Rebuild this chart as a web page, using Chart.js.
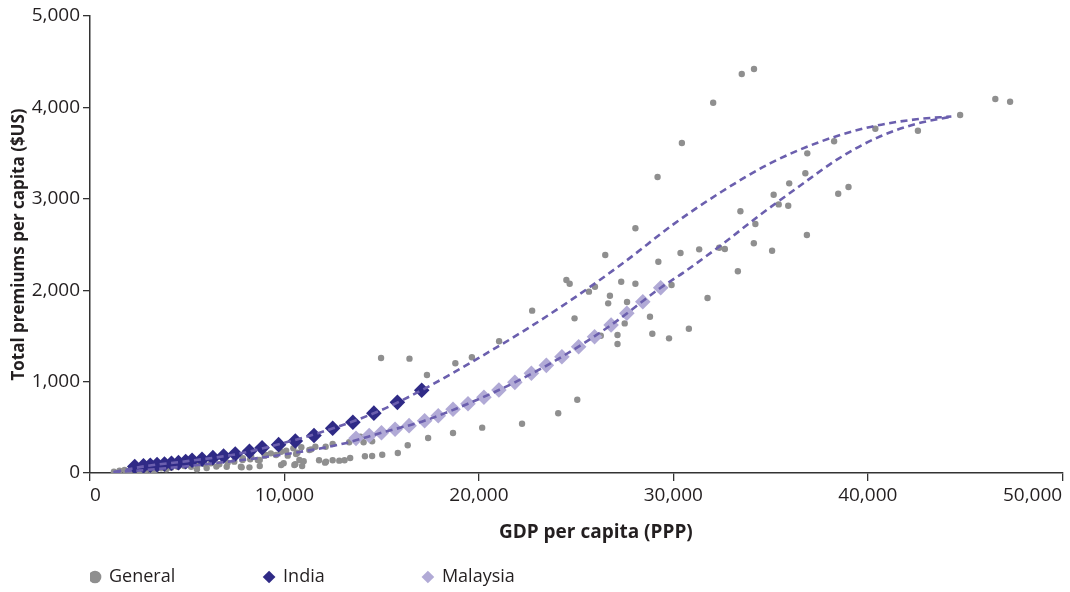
<!DOCTYPE html>
<html>
<head>
<meta charset="utf-8">
<script src="https://cdn.jsdelivr.net/npm/chart.js@4.4.1/dist/chart.umd.min.js"></script>
<style>
  html, body { margin: 0; padding: 0; background: #ffffff; }
  #wrap { width: 1070px; height: 592px; position: relative; }
</style>
</head>
<body>
<div id="wrap"><canvas id="c" width="1070" height="592"></canvas></div>
<script>
// ---- Data ----
const xTicks = [0, 10000, 20000, 30000, 40000, 50000];
const yTicks = [0, 1000, 2000, 3000, 4000, 5000];

const seriesNames = ["General", "India", "Malaysia"];

// General (grey dots): GDP per capita (PPP), total premiums per capita ($US)
const generalX = [1230,1520,1780,1900,2030,2290,2550,2600,2890,3150,3300,3400,3660,3920,4170,4510,4850,5200,5500,5540,5880,6000,6220,6500,6650,7030,7080,7420,7760,7800,7850,7860,8200,8240,8290,8630,8730,8730,8990,9060,9300,9570,9830,9830,9960,10090,10170,10460,10510,10560,10600,10670,10770,10870,10910,10990,11280,11380,11590,11780,12090,12120,12140,12480,12480,12820,13090,13330,13380,13910,14070,14140,14510,14510,15030,15830,16340,17390,18670,20170,22220,24080,25060,14970,16430,17330,18790,19640,21040,22740,24920,24500,24670,25660,25970,26500,26650,26740,27320,27620,28050,28050,26270,27130,27130,27500,28800,28920,29780,29190,29230,29910,30370,30440,30800,31330,31760,32050,32360,32650,33320,33450,33520,34140,34150,34220,35080,35160,35420,35910,35960,36790,36890,36870,38270,38480,39010,40390,42580,44750,46560,47320];
const generalY = [14,25,33,5,22,33,25,10,33,25,15,40,51,40,58,69,77,69,40,88,98,55,106,70,95,69,113,124,69,62,142,161,62,150,178,142,142,77,190,197,215,197,233,88,106,244,190,270,88,95,208,222,142,281,77,128,252,259,288,139,113,288,124,317,139,135,139,336,164,397,336,183,186,347,200,219,303,383,438,496,539,653,802,1258,1251,1072,1200,1266,1441,1776,1692,2111,2071,1984,2038,2385,1856,1940,2093,1871,2677,2071,1502,1510,1411,1637,1710,1524,1473,3238,2312,2057,2407,3610,1579,2447,1915,4051,2465,2450,2207,2863,4365,2513,4420,2724,2432,3045,2939,2924,3169,3279,3497,2604,3629,3056,3129,3767,3745,3917,4092,4062];

// India (dark diamonds)
const indiaX = [2300,2750,3100,3450,3830,4190,4550,4920,5250,5760,6320,6870,7470,8200,8850,9700,10560,11520,12480,13520,14600,15810,17060];
const indiaY = [70,78,85,92,98,106,113,125,140,150,168,186,208,237,277,310,350,410,489,555,655,773,906];

// Malaysia (light diamonds)
const malaysiaX = [13680,14360,14990,15690,16410,17210,17910,18670,19440,20260,21030,21850,22700,23470,24270,25130,25950,26800,27610,28430,29350];
const malaysiaY = [379,410,441,478,518,572,627,697,758,828,908,992,1091,1178,1272,1382,1491,1619,1747,1874,2027];

// Dashed fitted curves (read along the dashes)
const upperCurveX = [1250,3000,5000,7500,10000,12500,15000,17060,20000,22500,25000,27500,30000,32500,35000,37500,40000,42500,44300];
const upperCurveY = [12,80,130,205,330,489,690,906,1260,1580,1930,2310,2720,3080,3390,3620,3780,3870,3900];
const lowerCurveX = [1200,3000,6300,9700,13000,15000,17200,19440,21850,24270,26800,29350,30500,32500,34500,36500,38500,40500,42500,44300];
const lowerCurveY = [10,35,105,195,320,441,572,758,992,1272,1619,2027,2190,2500,2830,3140,3440,3670,3820,3900];

// ---- Build chart ----
const toPts = (xs, ys) => xs.map((x, i) => ({x: x, y: ys[i]}));

const FONT = "'Open Sans', Lato, sans-serif";
const TEXT = '#231f20';
const AXIS = '#333333';
const LEGEND_FONT_SIZE = 18;

function padText(text, targetWidth) {
  const cv = document.createElement('canvas');
  const cx = cv.getContext('2d');
  cx.font = 'normal ' + LEGEND_FONT_SIZE + 'px ' + FONT;
  let t = text;
  let guard = 0;
  while (cx.measureText(t).width < targetWidth && guard < 200) { t += ' '; guard++; }
  return t;
}
// text widths (incl. trailing gap) so the legend markers land where the reference puts them
const legendWidths = {"General": 153, "India": 137, "Malaysia": 0};
const legendOrder = {"General": 0, "India": 1, "Malaysia": 2};

const data = {
  datasets: [
    { label: 'fitUpper', data: toPts(upperCurveX, upperCurveY), showLine: true, pointRadius: 0,
      borderColor: '#6b5fae', borderWidth: 2.6, borderDash: [7, 4.5], cubicInterpolationMode: 'monotone', order: 0, fill: false },
    { label: 'fitLower', data: toPts(lowerCurveX, lowerCurveY), showLine: true, pointRadius: 0,
      borderColor: '#6b5fae', borderWidth: 2.6, borderDash: [7, 4.5], cubicInterpolationMode: 'monotone', order: 0, fill: false },
    { label: seriesNames[1], data: toPts(indiaX, indiaY), pointStyle: 'rectRot', pointRadius: 7.8,
      backgroundColor: '#2f2a86', borderColor: '#2f2a86', borderWidth: 0, order: 1 },
    { label: seriesNames[2], data: toPts(malaysiaX, malaysiaY), pointStyle: 'rectRot', pointRadius: 7.8,
      backgroundColor: '#b1aad6', borderColor: '#b1aad6', borderWidth: 0, order: 2 },
    { label: seriesNames[0], data: toPts(generalX, generalY), pointStyle: 'circle', pointRadius: 3.2,
      backgroundColor: '#8f8f8f', borderColor: '#8f8f8f', borderWidth: 0, order: 3 }
  ]
};

new Chart(document.getElementById('c'), {
  type: 'scatter',
  data: data,
  options: {
    responsive: false,
    animation: false,
    locale: 'en-US',
    layout: { padding: { top: 16, right: 5, bottom: -4, left: 0 } },
    plugins: {
      tooltip: { enabled: false },
      legend: {
        display: true,
        position: 'bottom',
        align: 'start',
        fullSize: false,
        labels: {
          usePointStyle: true,
          boxWidth: 10,
          boxHeight: 9,
          padding: 0,
          color: TEXT,
          font: { family: FONT, size: LEGEND_FONT_SIZE },
          filter: (item) => item.text.trim() in legendOrder,
          sort: (a, b) => legendOrder[a.text.trim()] - legendOrder[b.text.trim()],
          generateLabels: (ch) => {
            const items = Chart.defaults.plugins.legend.labels.generateLabels(ch);
            items.forEach(it => {
              it.lineWidth = 0;
              if (legendWidths[it.text]) it.text = padText(it.text, legendWidths[it.text]);
            });
            return items;
          }
        },
        onClick: null
      }
    },
    scales: {
      x: {
        type: 'linear',
        min: xTicks[0],
        max: xTicks[xTicks.length - 1],
        afterBuildTicks: (scale) => { scale.ticks = xTicks.map(v => ({value: v})); },
        afterFit: (scale) => { scale.height = 95; },
        ticks: {
          align: 'inner',
          color: TEXT,
          padding: 3,
          font: { family: FONT, size: 19 },
          maxRotation: 0,
          callback: (v) => Number(v).toLocaleString('en-US')
        },
        grid: { display: true, drawOnChartArea: false, drawTicks: true, tickLength: 8, color: AXIS, lineWidth: 1.3 },
        border: { display: true, color: AXIS, width: 1.5 },
        title: {
          display: true,
          text: '        GDP per capita (PPP)',
          color: TEXT,
          font: { family: FONT, size: 19, weight: 'bold' },
          padding: { top: 0, bottom: 24 }
        }
      },
      y: {
        type: 'linear',
        min: yTicks[0],
        max: yTicks[yTicks.length - 1],
        afterBuildTicks: (scale) => { scale.ticks = yTicks.map(v => ({value: v})); },
        afterFit: (scale) => { scale.width = 90; },
        ticks: {
          color: TEXT,
          padding: 3,
          font: { family: FONT, size: 19 },
          callback: (v) => Number(v).toLocaleString('en-US')
        },
        grid: { display: true, drawOnChartArea: false, drawTicks: true, tickLength: 7, color: AXIS, lineWidth: 1.3 },
        border: { display: true, color: AXIS, width: 1.5 },
        title: {
          display: true,
          text: 'Total premiums per capita ($US)',
          color: TEXT,
          font: { family: FONT, size: 17, weight: 'bold' },
          padding: { top: 9, bottom: 0 }
        }
      }
    }
  }
});
</script>
</body>
</html>
